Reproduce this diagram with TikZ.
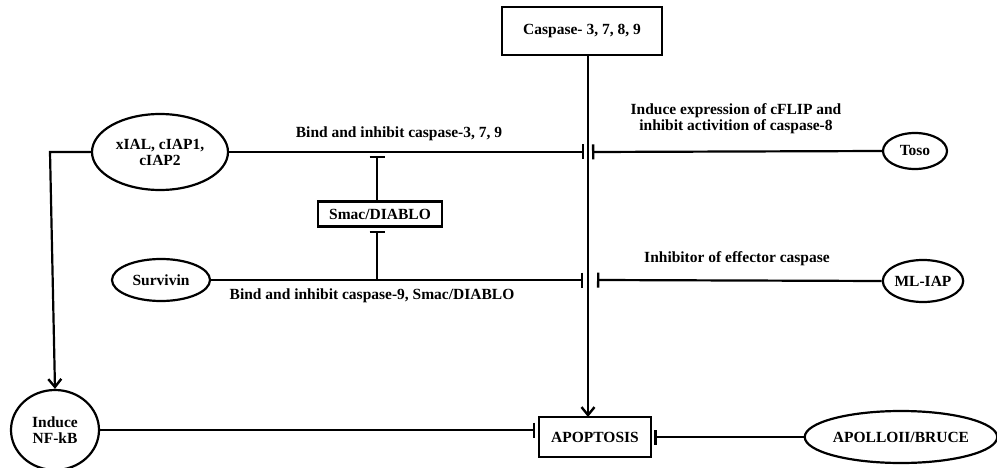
\documentclass[tikz,border=0pt]{standalone}
\usepackage{fontspec}
\setmainfont{Liberation Serif}
\usetikzlibrary{arrows.meta,shapes.geometric}
\begin{document}
\begin{tikzpicture}[x=1pt,y=-1pt,
  every node/.style={font=\bfseries\fontsize{15.5}{16}\selectfont, inner sep=0pt},
  boxn/.style={draw, line width=2.2pt, rectangle},
  ell/.style={draw, line width=2.2pt, ellipse},
  conn/.style={line width=2.2pt},
  inh/.style={conn, -{Bar[width=15pt,line width=2.4pt]}},
  act/.style={conn, -{Straight Barb[length=8pt,width=13pt,line width=2.4pt]}},
  lbl/.style={align=center}]
\useasboundingbox (0,0) rectangle (997,468);
\fill[white] (0,0) rectangle (997,468);

\node[boxn, minimum width=160pt, minimum height=48pt] (casp) at (582,31) {Caspase- 3, 7, 8, 9};
\node[boxn, minimum width=112pt, minimum height=40pt] (apop) at (595,437) {APOPTOSIS};
\node[ell, minimum width=136pt, minimum height=76pt, lbl] (xial) at (160,152) {xIAL, cIAP1,\\cIAP2};
\node[ell, minimum width=98pt, minimum height=42pt] (surv) at (161,280) {Survivin};
\node[boxn, minimum width=124pt, minimum height=25pt] (smac) at (380,214) {Smac/DIABLO};
\node[ell, minimum width=64pt, minimum height=36pt] (toso) at (915,151) {Toso};
\node[ell, minimum width=80pt, minimum height=42pt] (mliap) at (923,281) {ML-IAP};
\node[ell, minimum width=192pt, minimum height=52pt] (bruce) at (901,437) {APOLLOII/BRUCE};
\node[ell, minimum width=88pt, minimum height=80pt, lbl] (nfkb) at (55,430) {Induce\\NF-kB};

\node[lbl] (l1) at (399,134) {Bind and inhibit caspase-3, 7, 9};
\node[lbl] (l2) at (736,119) {Induce expression of cFLIP and\\inhibit activition of caspase-8};
\node[lbl] (l3) at (737,259) {Inhibitor of effector caspase};
\node[lbl] (l4) at (372,296) {Bind and inhibit caspase-9, Smac/DIABLO};

\coordinate (t1) at (584,152);
\coordinate (t2) at (592,152);
\coordinate (t3) at (583,280);
\coordinate (t4) at (597,280);
\coordinate (corner) at (50,152);
\coordinate (s1) at (377,280);
\coordinate (s2) at (377,156);
\coordinate (s3) at (377,231);
\coordinate (ctop) at (588,55);
\coordinate (cbot) at (588,417);
\coordinate (aw) at ([xshift=-3pt]apop.west);
\coordinate (ae) at ([xshift=2pt]apop.east);

\draw[act] (ctop) -- (cbot);
\draw[inh] (xial.east) -- (t1);
\draw[inh] (toso.west) -- (t2);
\draw[inh] (surv.east) -- (t3);
\draw[inh] (mliap.west) -- (t4);
\draw[act] (xial.west) -- (corner) -- (nfkb.north);
\draw[inh] (nfkb.east) -- (nfkb.east -| aw);
\draw[inh] (bruce.west) -- (ae);
\draw[inh] (s1) -- (s3);
\draw[inh] (s1 |- smac.north) -- (s2);
\end{tikzpicture}
\end{document}
